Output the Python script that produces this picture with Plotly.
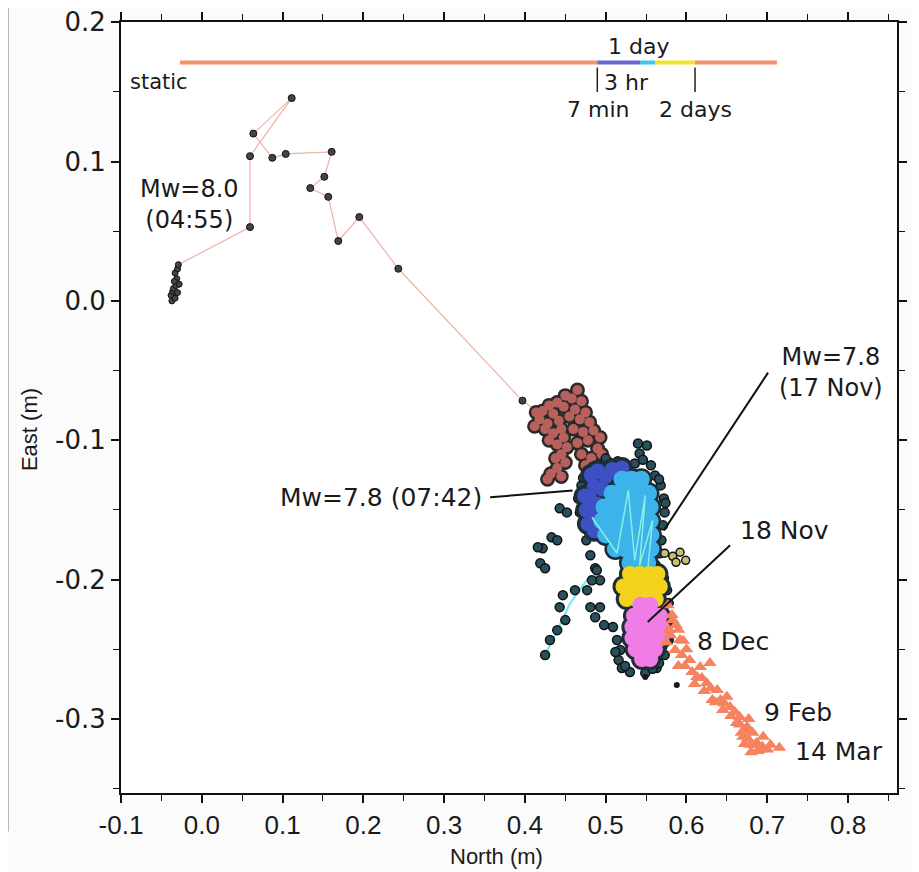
import plotly.graph_objects as go

# ---------------- data (metres) ----------------
static_x = [-0.037, -0.034, -0.038, -0.033, -0.036, -0.030, -0.035, -0.032, -0.028, -0.031, -0.034, -0.033, -0.030, -0.029]
static_y = [0.000, 0.003, 0.004, 0.002, 0.007, 0.006, 0.009, 0.011, 0.012, 0.016, 0.014, 0.020, 0.023, 0.026]

# coseismic 1-s positions after the Mw 8.0 (in path order)
path_x = [0.0597, 0.0597, 0.1113, 0.0638, 0.0873, 0.1039, 0.1608, 0.1517, 0.1343, 0.1566, 0.1690, 0.1950, 0.2433, 0.397, 0.430]
path_y = [0.0530, 0.1039, 0.1456, 0.1201, 0.1027, 0.1055, 0.1070, 0.0891, 0.0810, 0.0747, 0.0430, 0.0602, 0.0231, -0.0716, -0.085]

red_x = [0.465, 0.450, 0.458, 0.470, 0.440, 0.430, 0.448, 0.462, 0.475, 0.422, 0.435, 0.455, 0.468, 0.480, 0.418, 0.428, 0.442,
         0.425, 0.435, 0.445, 0.430, 0.440, 0.448, 0.414, 0.412,
         0.460, 0.472, 0.485, 0.493, 0.478, 0.465, 0.490, 0.470, 0.482, 0.495, 0.475, 0.488,
         0.452, 0.445, 0.438, 0.450, 0.440, 0.432, 0.445, 0.428]
red_y = [-0.064, -0.068, -0.070, -0.072, -0.073, -0.075, -0.076, -0.078, -0.080, -0.079, -0.081, -0.083, -0.085, -0.087, -0.085, -0.088, -0.086,
         -0.092, -0.095, -0.092, -0.100, -0.103, -0.098, -0.080, -0.090,
         -0.092, -0.094, -0.093, -0.098, -0.100, -0.102, -0.106, -0.110, -0.113, -0.110, -0.118, -0.120,
         -0.105, -0.110, -0.113, -0.116, -0.120, -0.124, -0.126, -0.128]

edge_x = [0.540, 0.551, 0.542, 0.536, 0.528, 0.561, 0.568, 0.572, 0.573, 0.571, 0.569, 0.567, 0.562,
          0.505, 0.491, 0.478, 0.470, 0.466, 0.468, 0.473, 0.476, 0.481, 0.487, 0.493,
          0.443, 0.452, 0.433, 0.440, 0.422, 0.416, 0.419, 0.425, 0.447, 0.462, 0.443, 0.450, 0.440, 0.431, 0.425,
          0.477, 0.483, 0.489, 0.481, 0.487, 0.493, 0.498, 0.509, 0.514, 0.518, 0.516, 0.520, 0.530, 0.549,
          0.563, 0.573, 0.578, 0.580, 0.578, 0.576, 0.572, 0.512, 0.524, 0.558, 0.566, 0.570,
          0.546, 0.556, 0.566, 0.574, 0.472, 0.484, 0.500, 0.515]
edge_y = [-0.1024, -0.1038, -0.1095, -0.1167, -0.1217, -0.1253, -0.1324, -0.1418, -0.1518, -0.1611, -0.1718, -0.1811, -0.1897,
          -0.1160, -0.1181, -0.1231, -0.1324, -0.1418, -0.1518, -0.1611, -0.1718, -0.1826, -0.1919, -0.2005,
          -0.1489, -0.1518, -0.1697, -0.1718, -0.1776, -0.1768, -0.1883, -0.1919, -0.2112, -0.2076, -0.2198, -0.2291, -0.2363, -0.2434, -0.2542,
          -0.2076, -0.2005, -0.1933, -0.2198, -0.2270, -0.2198, -0.2327, -0.2341, -0.2434, -0.2506, -0.2578, -0.2635, -0.2664, -0.2671,
          -0.2635, -0.2542, -0.2434, -0.2291, -0.2169, -0.2076, -0.1990, -0.2520, -0.2620, -0.2640, -0.2600, -0.2480,
          -0.1140, -0.1180, -0.1280, -0.1450, -0.1270, -0.1190, -0.1130, -0.1150]

yedge_x = [0.573, 0.583, 0.592, 0.599, 0.587]
yedge_y = [-0.1811, -0.1833, -0.1804, -0.1862, -0.1876]

dblue_x = [0.482, 0.490, 0.500, 0.486, 0.496, 0.480, 0.490, 0.484, 0.478, 0.486, 0.508, 0.520, 0.476, 0.474]
dblue_y = [-0.125, -0.122, -0.126, -0.133, -0.135, -0.141, -0.146, -0.152, -0.160, -0.165, -0.121, -0.120, -0.150, -0.140]

cyan_x = [0.520, 0.532, 0.544,
          0.508, 0.520, 0.532, 0.544, 0.553,
          0.498, 0.510, 0.522, 0.534, 0.546, 0.555,
          0.495, 0.507, 0.519, 0.531, 0.543, 0.555,
          0.500, 0.512, 0.524, 0.536, 0.548, 0.556,
          0.512, 0.524, 0.536, 0.548, 0.556,
          0.530, 0.542, 0.552]
cyan_y = [-0.128] * 3 + [-0.138] * 5 + [-0.148] * 6 + [-0.158] * 6 + [-0.168] * 6 + [-0.178] * 5 + [-0.188] * 3

cline_x = [0.483, 0.514, 0.528, 0.536, 0.549, 0.542, 0.558, 0.552]
cline_y = [-0.1553, -0.1811, -0.1360, -0.1861, -0.1396, -0.1897, -0.1575, -0.1933]
tail_x = [0.425, 0.456, 0.481]
tail_y = [-0.2542, -0.2170, -0.1969]

yellow_x = [0.530, 0.542, 0.554, 0.564,
            0.522, 0.534, 0.546, 0.558, 0.567,
            0.526, 0.538, 0.550, 0.562]
yellow_y = [-0.196] * 4 + [-0.205] * 5 + [-0.214] * 4

mag_x = [0.543, 0.555,
         0.535, 0.547, 0.559, 0.567,
         0.533, 0.545, 0.557, 0.569,
         0.533, 0.545, 0.557, 0.569,
         0.537, 0.549, 0.561,
         0.545, 0.555]
mag_y = [-0.218] * 2 + [-0.226] * 4 + [-0.234] * 4 + [-0.242] * 4 + [-0.250] * 3 + [-0.257] * 2

post_x = [0.577, 0.582, 0.587, 0.580, 0.592, 0.586, 0.594, 0.583, 0.604, 0.617, 0.629, 0.613, 0.625, 0.638,
          0.650, 0.654, 0.645, 0.660, 0.666, 0.675, 0.682, 0.670, 0.687, 0.695, 0.704, 0.691, 0.679, 0.673,
          0.715, 0.607, 0.619, 0.632, 0.642,
          0.668, 0.676, 0.684, 0.672, 0.680, 0.688, 0.694, 0.700, 0.666, 0.677,
          0.598, 0.610, 0.622, 0.630, 0.636, 0.647, 0.655, 0.662, 0.600, 0.590, 0.596, 0.578, 0.575, 0.590]
post_y = [-0.2184, -0.2255, -0.2327, -0.2399, -0.2434, -0.2506, -0.2542, -0.2291, -0.2578, -0.2628, -0.2599, -0.2699, -0.2742, -0.2792,
          -0.2842, -0.2914, -0.2936, -0.2950, -0.2986, -0.3057, -0.3100, -0.3129, -0.3172, -0.3129, -0.3186, -0.3222, -0.3186, -0.3079,
          -0.3208, -0.2664, -0.2706, -0.2864, -0.2864,
          -0.310, -0.314, -0.319, -0.318, -0.324, -0.323, -0.320, -0.322, -0.304, -0.300,
          -0.262, -0.275, -0.280, -0.278, -0.288, -0.289, -0.298, -0.303, -0.250, -0.236, -0.244, -0.236, -0.245, -0.262]

lone_x = [0.549, 0.588]
lone_y = [-0.2700, -0.2757]

# time bar (legend for colours)
tl_start = [-0.027, 0.4896, 0.5425, 0.561, 0.6106]
tl_end = [0.4896, 0.5425, 0.561, 0.6106, 0.712]
tl_colors = ["#f3916c", "#6b66d6", "#42c3e8", "#f3e22a", "#f3916c"]
tl_y = 0.1711
tl_marks = [0.4896, 0.6106]

fig = go.Figure()

# left edge artefact of neighbouring panel
fig.add_shape(type="line", xref="paper", yref="paper", x0=-0.146, x1=-0.146, y0=-0.05, y1=1.03,
              line=dict(color="#9a9a9a", width=2))
fig.add_shape(type="rect", xref="paper", yref="paper", x0=-0.156, x1=-0.147, y0=0.135, y1=0.265,
              line=dict(width=0), fillcolor="#f4dc9c")

# trajectory line
fig.add_trace(go.Scatter(x=static_x + path_x, y=static_y + path_y, mode="lines",
                         line=dict(color="#f0b2a8", width=1.2), hoverinfo="skip"))
fig.add_trace(go.Scatter(x=static_x, y=static_y, mode="markers+lines",
                         line=dict(color="#333", width=1),
                         marker=dict(size=6, color="#444", line=dict(color="#111", width=1))))
fig.add_trace(go.Scatter(x=path_x[:-1], y=path_y[:-1], mode="markers",
                         marker=dict(size=7, color="#444", line=dict(color="#111", width=1))))

# red cluster (outline + fill)
fig.add_trace(go.Scatter(x=red_x, y=red_y, mode="markers", marker=dict(size=15, color="#2a2a2a")))
fig.add_trace(go.Scatter(x=red_x, y=red_y, mode="markers", marker=dict(size=10, color="#b8605b")))

# scattered edge points
fig.add_trace(go.Scatter(x=tail_x, y=tail_y, mode="lines", line=dict(color="#6fe6ee", width=2)))
fig.add_trace(go.Scatter(x=edge_x, y=edge_y, mode="markers",
                         marker=dict(size=9, color="#27505c", line=dict(color="#111", width=1.5))))
fig.add_trace(go.Scatter(x=yedge_x, y=yedge_y, mode="markers",
                         marker=dict(size=8, color="#c8c070", line=dict(color="#111", width=1.5))))

# outline layer for all dense clusters
all_x = dblue_x + cyan_x + yellow_x + mag_x
all_y = dblue_y + cyan_y + yellow_y + mag_y
fig.add_trace(go.Scatter(x=all_x, y=all_y, mode="markers", marker=dict(size=22, color="#1e2e36")))
fig.add_trace(go.Scatter(x=dblue_x, y=dblue_y, mode="markers", marker=dict(size=15, color="#3d50c4")))
fig.add_trace(go.Scatter(x=cyan_x, y=cyan_y, mode="markers", marker=dict(size=17, color="#3cb3ea")))
fig.add_trace(go.Scatter(x=cline_x, y=cline_y, mode="lines", line=dict(color="#86f0e2", width=1.5)))
fig.add_trace(go.Scatter(x=yellow_x, y=yellow_y, mode="markers", marker=dict(size=16, color="#f2d21c")))
fig.add_trace(go.Scatter(x=mag_x, y=mag_y, mode="markers", marker=dict(size=16, color="#f07de6")))

# postseismic
fig.add_trace(go.Scatter(x=post_x, y=post_y, mode="markers",
                         marker=dict(size=12, symbol="triangle-up", color="#f5835f")))
fig.add_trace(go.Scatter(x=lone_x, y=lone_y, mode="markers", marker=dict(size=6, color="#1a1a1a")))

# time bar
for xs, xe, c in zip(tl_start, tl_end, tl_colors):
    fig.add_trace(go.Scatter(x=[xs, xe], y=[tl_y, tl_y], mode="lines", line=dict(color=c, width=4)))
for xm in tl_marks:
    fig.add_shape(type="line", x0=xm, x1=xm, y0=0.1675, y1=0.1500, line=dict(color="#222", width=1.5))

# leader lines
leaders = [((0.357, -0.141), (0.459, -0.136)),
           ((0.701, -0.0515), (0.572, -0.1647)),
           ((0.654, -0.1754), (0.552, -0.2305))]
for (a, b) in leaders:
    fig.add_shape(type="line", x0=a[0], y0=a[1], x1=b[0], y1=b[1], line=dict(color="#111", width=2))

F = "DejaVu Sans, sans-serif"
def txt(x, y, s, anchor="left", size=25, align="center"):
    fig.add_annotation(x=x, y=y, text=s, showarrow=False, xanchor=anchor, yanchor="middle", align=align,
                       font=dict(family=F, size=size, color="#1a1a1a"))

txt(-0.0913, 0.1568, "static", size=21)
txt(0.540, 0.1826, "1 day", "center", 22)
txt(0.495, 0.1568, "3 hr", size=22)
txt(0.491, 0.1375, "7 min", "center", 22)
txt(0.611, 0.1375, "2 days", "center", 22)
txt(-0.0146, 0.0692, "Mw=8.0<br>(04:55)", "center", 24)
txt(0.349, -0.1414, "Mw=7.8 (07:42)", "right")
txt(0.779, -0.0512, "Mw=7.8<br>(17 Nov)", "center", 24)
txt(0.664, -0.1647, "18 Nov")
txt(0.611, -0.2442, "8 Dec")
txt(0.693, -0.2957, "9 Feb")
txt(0.732, -0.3236, "14 Mar")

AF = "Liberation Sans, Arial, sans-serif"
fig.add_annotation(xref="paper", yref="paper", x=0.4845, y=-0.083, text="North (m)", showarrow=False,
                   xanchor="center", yanchor="middle", font=dict(family=AF, size=22, color="#1a1a1a"))
fig.add_annotation(xref="paper", yref="paper", x=-0.117, y=0.471, text="East (m)", showarrow=False, textangle=-90,
                   xanchor="center", yanchor="middle", font=dict(family=AF, size=22, color="#1a1a1a"))

fig.update_layout(
    width=919, height=872,
    margin=dict(l=113, r=30, t=14, b=87),
    paper_bgcolor="#fbfbfb", plot_bgcolor="#ffffff",
    showlegend=False,
)
fig.update_xaxes(range=[-0.1, 0.8606], tickvals=[-0.1, 0.0, 0.1, 0.2, 0.3, 0.4, 0.5, 0.6, 0.7, 0.8],
                 ticktext=["-0.1", "0.0", "0.1", "0.2", "0.3", "0.4", "0.5", "0.6", "0.7", "0.8"],
                 ticks="outside", ticklen=8, tickwidth=1.5, tickcolor="#111", automargin=False,
                 ticklabeloverflow="allow",
                 minor=dict(ticks="outside", ticklen=6, tickwidth=1.2, tickcolor="#111", dtick=0.05, tick0=0.05),
                 showline=True, linecolor="#111", linewidth=2, mirror="allticks", showgrid=False, zeroline=False,
                 tickfont=dict(family=AF, size=26, color="#1a1a1a"))
fig.update_yaxes(range=[-0.3532, 0.2002], tickvals=[0.2, 0.1, 0.0, -0.1, -0.2, -0.3],
                 ticktext=["0.2", "0.1", "0.0", "-0.1", "-0.2", "-0.3"],
                 ticks="outside", ticklen=8, tickwidth=1.5, tickcolor="#111", automargin=False,
                 ticklabeloverflow="allow",
                 minor=dict(ticks="outside", ticklen=6, tickwidth=1.2, tickcolor="#111", dtick=0.05, tick0=0.05),
                 showline=True, linecolor="#111", linewidth=2, mirror="allticks", showgrid=False, zeroline=False,
                 tickfont=dict(family="DejaVu Sans, sans-serif", size=26, color="#1a1a1a"))

fig.write_html("out.html")
